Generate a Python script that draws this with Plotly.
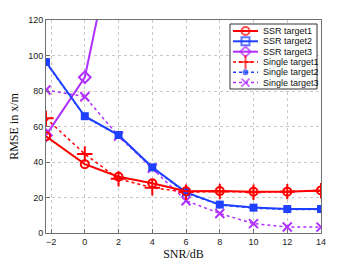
import plotly.graph_objects as go

snr = [-2.3, 0, 2, 4, 6, 8, 10, 12, 14]
ssr_t1 = [54.5, 38.8, 31.7, 28.0, 23.5, 23.6, 23.2, 23.3, 24.0]
ssr_t2 = [96.3, 65.8, 55.2, 37.0, 22.9, 16.0, 14.3, 13.5, 13.5]
ssr_t3 = [55.0, 87.7, 178.0, 260.0, 340.0, 420.0, 500.0, 580.0, 660.0]
single_t1 = [64.6, 44.5, 30.5, 25.5, 23.0, 23.4, 23.0, 23.3, 23.8]
single_t2 = [96.0, 65.5, 55.0, 36.8, 22.5, 15.8, 14.0, 13.3, 13.3]
single_t3 = [80.6, 76.8, 54.6, 36.5, 18.2, 11.0, 5.3, 3.4, 3.3]
x_ticks = [-2, 0, 2, 4, 6, 8, 10, 12, 14]
y_ticks = [0, 20, 40, 60, 80, 100, 120]
series_names = ["SSR target1", "SSR target2", "SSR target3",
                "Single target1", "Single target2", "Single target3"]

RED = "#ff0000"
BLUE = "#2040ff"
PURPLE = "#b030ff"

# plot area in pixels
L, R, T, B = 46, 321, 20, 233
W, H = 354, 262

def px(x):
    return (x - L) / (R - L)

def py(y):
    return (B - y) / (B - T)

styles = [
    dict(color=RED, dash="solid", width=2, symbol="circle-open", size=8, lsize=8),
    dict(color=BLUE, dash="solid", width=2, symbol="square", size=8, lsize=8, lsymbol="square-open"),
    dict(color=PURPLE, dash="solid", width=2, symbol="diamond-open", size=9, lsize=8),
    dict(color=RED, dash="dot", width=1.5, symbol="cross-thin", size=11, lsize=10),
    dict(color=BLUE, dash="dot", width=1.5, symbol="circle", size=6, lsize=6),
    dict(color=PURPLE, dash="dot", width=1.5, symbol="x-thin", size=9, lsize=8),
]
series = [ssr_t1, ssr_t2, ssr_t3, single_t1, single_t2, single_t3]

fig = go.Figure()

# draw dotted singles first, then SSR on top
order = [5, 4, 3, 2, 1, 0]
for i in order:
    s = styles[i]
    fig.add_trace(go.Scatter(
        x=snr, y=series[i], mode="lines+markers", name=series_names[i], showlegend=False,
        line=dict(color=s["color"], width=s["width"], dash=s["dash"]),
        marker=dict(symbol=s["symbol"], size=s["size"], color=s["color"],
                    line=dict(color=s["color"], width=2 if "open" in s["symbol"] or "thin" in s["symbol"] else 0)),
        xaxis="x", yaxis="y"))

# legend box on an overlay axis spanning the plot area
bx0, bx1, by0, by1 = px(230), px(317), py(89), py(24)
fig.add_trace(go.Scatter(
    x=[bx0, bx1, bx1, bx0, bx0], y=[by0, by0, by1, by1, by0], mode="lines",
    fill="toself", fillcolor="white", line=dict(color="#333", width=1),
    showlegend=False, hoverinfo="skip", xaxis="x2", yaxis="y2"))

rows_py = [31, 41.3, 51.7, 62, 72.3, 82.6]
annotations = []
for i, ry in enumerate(rows_py):
    s = styles[i]
    yy = py(ry)
    fig.add_trace(go.Scatter(
        x=[px(233), px(245.5), px(258)], y=[yy, yy, yy], mode="lines+markers",
        line=dict(color=s["color"], width=s["width"], dash=s["dash"]),
        marker=dict(symbol=s.get("lsymbol", s["symbol"]), size=[0, s["lsize"], 0], color=s["color"],
                    line=dict(color=s["color"], width=2 if s["symbol"] != "circle" else 0)),
        showlegend=False, hoverinfo="skip", xaxis="x2", yaxis="y2"))
    annotations.append(dict(x=px(261), y=yy, xref="x2", yref="y2", text=series_names[i],
                            showarrow=False, xanchor="left", yanchor="middle",
                            font=dict(family="Liberation Sans", size=9, color="#111")))

axis_common = dict(showline=True, mirror=True, linecolor="#707070", linewidth=1,
                   ticks="inside", ticklen=4, tickcolor="#707070",
                   showgrid=True, gridcolor="#c8c8c8", griddash="dot", gridwidth=1,
                   zeroline=False, automargin=False,
                   tickfont=dict(family="Liberation Sans", size=9, color="#222"))

fig.update_layout(
    width=W, height=H,
    margin=dict(l=L, r=W - R, t=T, b=H - B, autoexpand=False),
    paper_bgcolor="white", plot_bgcolor="white",
    xaxis=dict(range=[-2.3, 14], tickvals=x_ticks,
               ticktext=["\u22122" if v == -2 else str(v) for v in x_ticks],
               title=dict(text="SNR/dB", font=dict(family="Liberation Serif", size=12, color="#111"), standoff=2),
               **axis_common),
    yaxis=dict(range=[0, 120], tickvals=y_ticks,
               title=dict(text="RMSE in x/m", font=dict(family="Liberation Serif", size=12, color="#111"), standoff=6),
               **axis_common),
    xaxis2=dict(range=[0, 1], overlaying="x", visible=False, fixedrange=True),
    yaxis2=dict(range=[0, 1], overlaying="y", visible=False, fixedrange=True),
    annotations=annotations,
    showlegend=False,
)

fig.write_html("out.html", config={"displayModeBar": False},
               post_script="document.body.style.margin='0';")
